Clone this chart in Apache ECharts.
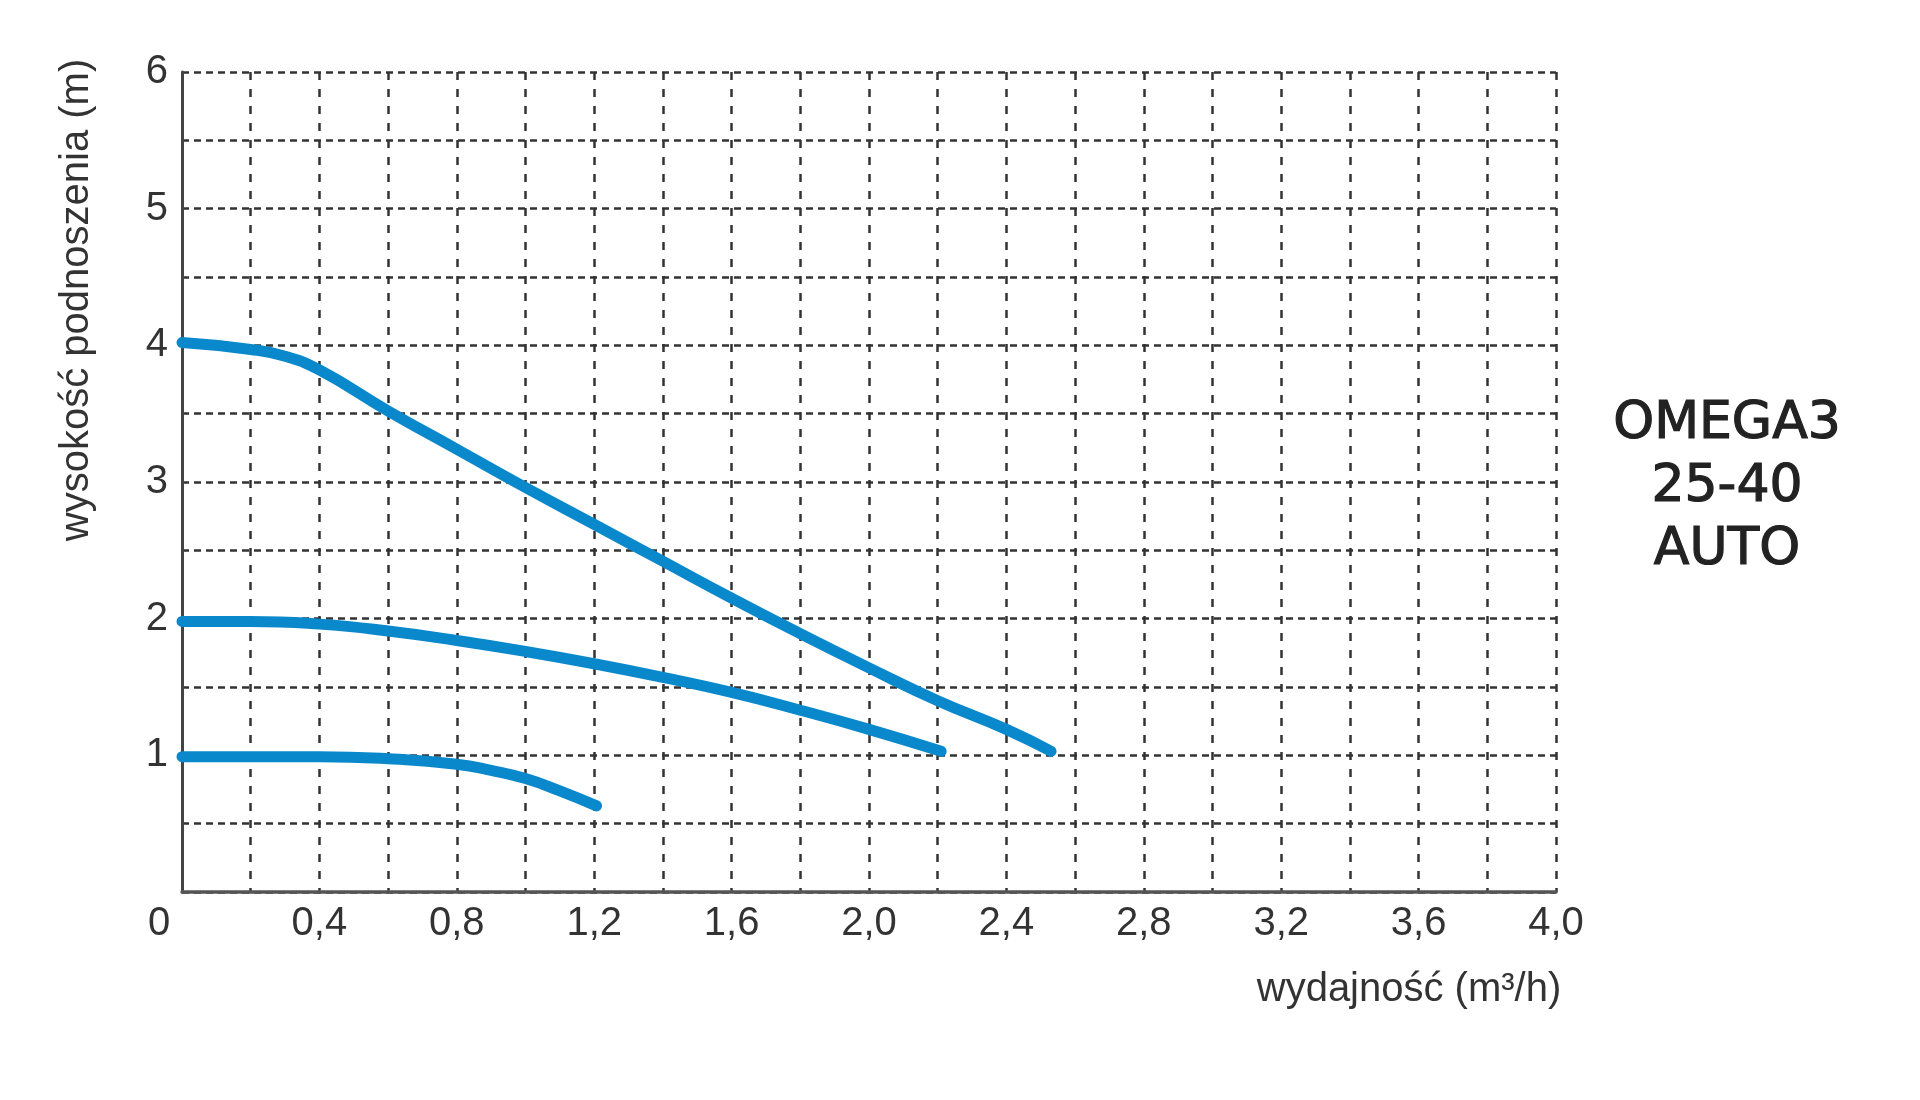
<!DOCTYPE html>
<html>
<head>
<meta charset="utf-8">
<script src="https://cdn.jsdelivr.net/npm/echarts@6/dist/echarts.min.js"></script>
<style>
html,body{margin:0;padding:0;background:#fff;}
#chart{width:1920px;height:1100px;}
</style>
</head>
<body>
<div id="chart"></div>
<script>
// Data (flow in m3/h, head in m)
const flowTop = [0, 0.2, 0.3, 0.4, 0.6, 0.8, 1.0, 1.2, 1.4, 1.6, 1.8, 2.0, 2.2, 2.4, 2.53];
const headTop = [4.02, 3.97, 3.92, 3.82, 3.52, 3.24, 2.96, 2.69, 2.42, 2.15, 1.89, 1.64, 1.40, 1.19, 1.03];
const flowMid = [0, 0.2, 0.4, 0.6, 0.8, 1.0, 1.2, 1.4, 1.6, 1.8, 2.0, 2.21];
const headMid = [1.98, 1.98, 1.96, 1.91, 1.84, 1.76, 1.67, 1.57, 1.46, 1.33, 1.19, 1.03];
const flowLow = [0, 0.2, 0.4, 0.6, 0.8, 0.9, 1.0, 1.1, 1.207];
const headLow = [0.99, 0.99, 0.99, 0.975, 0.935, 0.89, 0.83, 0.74, 0.63];

const xAxisTitle = 'wydajność (m³/h)';
const yAxisTitle = 'wysokość podnoszenia (m)';
const modelLines = ['OMEGA3', '25-40', 'AUTO'];

const zip = (xs, ys) => xs.map((x, i) => [x, ys[i]]);

const chart = echarts.init(document.getElementById('chart'), null, {renderer: 'canvas'});
const FONT = "'Liberation Sans', Arial, sans-serif";
const BLUE = '#0a88cc';

function curve(data) {
  return {
    type: 'line',
    data: data,
    smooth: 0.5,
    showSymbol: false,
    symbol: 'none',
    lineStyle: {color: BLUE, width: 11, cap: 'round', join: 'round'},
    animation: false
  };
}

chart.setOption({
  backgroundColor: '#ffffff',
  animation: false,
  grid: {left: 182, top: 72, right: 364, bottom: 208, containLabel: false},
  xAxis: {
    type: 'value',
    min: 0, max: 4, interval: 0.2,
    axisLine: {show: true, onZero: false, lineStyle: {color: '#555', width: 3.5}},
    axisTick: {show: false},
    splitLine: {show: true, lineStyle: {color: '#333', width: 2.5, type: [8, 9]}},
    axisLabel: {
      interval: 0,
      margin: 12,
      fontFamily: FONT, fontSize: 40, color: '#333',
      formatter: function (v) {
        const t = Math.round(v * 10);
        if (t === 0) return '{z|0}';
        if (t % 4 !== 0) return '';
        return (t / 10).toFixed(1).replace('.', ',');
      },
      rich: {z: {fontFamily: FONT, fontSize: 40, color: '#333', padding: [0, 46, 0, 0]}}
    }
  },
  yAxis: {
    type: 'value',
    min: 0, max: 6, interval: 0.5,
    axisLine: {show: true, onZero: false, lineStyle: {color: '#444', width: 3}},
    axisTick: {show: false},
    splitLine: {show: true, lineStyle: {color: '#333', width: 2.5, type: [7, 5]}},
    axisLabel: {
      margin: 14,
      fontFamily: FONT, fontSize: 40, color: '#333',
      formatter: function (v) {
        if (v > 0 && Math.abs(v - Math.round(v)) < 1e-6) return String(Math.round(v));
        return '';
      }
    }
  },
  series: [
    curve(zip(flowTop, headTop)),
    curve(zip(flowMid, headMid)),
    curve(zip(flowLow, headLow))
  ],
  graphic: [
    {
      type: 'text', x: 77, y: 300, rotation: Math.PI / 2,
      style: {text: yAxisTitle, fontFamily: FONT, fontSize: 40, fill: '#333', align: 'center', verticalAlign: 'middle'}
    },
    {
      type: 'text', x: 1409, y: 990,
      style: {text: xAxisTitle, fontFamily: FONT, fontSize: 40, fill: '#333', align: 'center', verticalAlign: 'middle'}
    },
    {
      type: 'text', x: 1727, y: 487,
      style: {text: modelLines.join('\n'), fontFamily: "'DejaVu Sans', sans-serif", fontSize: 52, lineHeight: 63, fill: '#222', stroke: '#222', lineWidth: 1.2, align: 'center', verticalAlign: 'middle'}
    }
  ]
});
</script>
</body>
</html>
